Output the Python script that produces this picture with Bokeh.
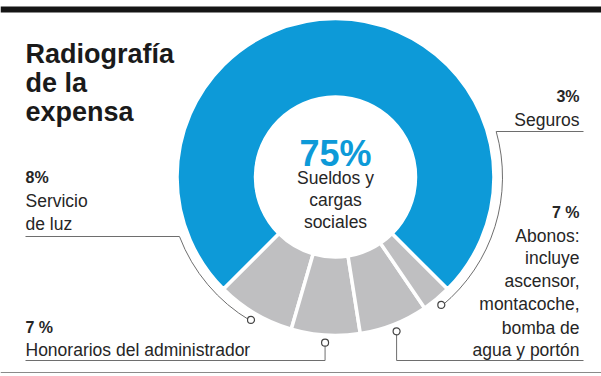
import math
from bokeh.plotting import figure
from bokeh.models import Range1d, ColumnDataSource
from bokeh.core.properties import value
from bokeh.embed import file_html
from bokeh.resources import INLINE

# ---------------- data ----------------
categories = ["Servicio de luz", "Honorarios del administrador", "Abonos", "Seguros",
              "Sueldos y cargas sociales"]
values = [8, 7, 7, 3, 75]
pct_labels = ["8%", "7 %", "7 %", "3%", "75%"]
title_lines = ["Radiografía", "de la", "expensa"]
servicio_lines = ["Servicio", "de luz"]
honorarios_lines = ["Honorarios del administrador"]
abonos_lines = ["Abonos:", "incluye", "ascensor,", "montacoche,", "bomba de", "agua y portón"]
seguros_lines = ["Seguros"]
center_lines = ["Sueldos y", "cargas", "sociales"]

# ---------------- layout / style ----------------
W, H = 601, 376
BLUE = "#0d9ad8"
GRAY = "#bfbfc1"
slice_colors = [GRAY, GRAY, GRAY, GRAY, BLUE]
TXT = "#262626"
LINE = "#6e6e6e"
FONT = value("Liberation Sans")


def Y(py):
    return H - py


CX, CY = 335, Y(176.5)
R_IN, R_OUT = 80, 158.5
R_DOT, R_ARC = 166, 167
START = 225.0

total = float(sum(values))
starts, ends = [], []
a = START
for v in values:
    starts.append(math.radians(a))
    a += 360.0 * v / total
    ends.append(math.radians(a))
mids = [(s + e) / 2 for s, e in zip(starts, ends)]

p = figure(width=W, height=H, x_range=Range1d(0, W), y_range=Range1d(0, H),
           x_axis_location=None, y_axis_location=None, toolbar_location=None,
           output_backend="svg", min_border=0)
p.grid.visible = False
p.outline_line_color = None
p.background_fill_color = "white"
p.border_fill_color = "white"

# top black bar and bottom rule
p.quad(left=[0], right=[W], bottom=[Y(12)], top=[Y(6)], fill_color="#151515", line_color=None)
p.line([0, W], [Y(372), Y(372)], line_color="#8a8a8a", line_width=1)

src = ColumnDataSource(dict(cat=categories, val=values, start=starts, end=ends, color=slice_colors))
p.annular_wedge(x=CX, y=CY, inner_radius=R_IN, outer_radius=R_OUT, start_angle="start",
                end_angle="end", direction="anticlock", fill_color="color",
                line_color="white", line_width=3.5, source=src)

# ---------------- leader lines ----------------
def pt(r, ang):
    return CX + r * math.cos(ang), CY + r * math.sin(ang)

# Servicio de luz: underline + arc down to slice
y_u = Y(236)
ang_s = math.pi + math.asin((CY - y_u) / R_ARC)
xs_u = CX + R_ARC * math.cos(ang_s)
p.line([25, xs_u], [y_u, y_u], line_color=LINE, line_width=1)
p.arc(x=[CX], y=[CY], radius=R_ARC, start_angle=ang_s, end_angle=mids[0],
      direction="anticlock", line_color=LINE, line_width=1)

# Honorarios: underline then up to slice
d1 = pt(R_DOT, mids[1])
p.line([25, d1[0], d1[0]], [Y(360), Y(360), d1[1]], line_color=LINE, line_width=1)

# Abonos: down then right
d2 = pt(R_DOT, mids[2])
p.line([d2[0], d2[0], 583], [d2[1], Y(360), Y(360)], line_color=LINE, line_width=1)

# Seguros: arc up to underline
y_g = Y(131)
ang_g = 2 * math.pi + math.asin((y_g - CY) / R_ARC)
xg = CX + R_ARC * math.cos(ang_g)
p.arc(x=[CX], y=[CY], radius=R_ARC, start_angle=mids[3], end_angle=ang_g,
      direction="anticlock", line_color=LINE, line_width=1)
p.line([xg, 583], [y_g, y_g], line_color=LINE, line_width=1)

dots = [pt(R_DOT, mids[0]), d1, d2, pt(R_DOT, mids[3])]
p.scatter([d[0] for d in dots], [d[1] for d in dots], marker="circle", size=7,
          fill_color="white", line_color="#444444", line_width=1.2)

# ---------------- texts ----------------
def txt(x, ys, texts, size, bold=False, align="left", color=TXT):
    p.text(x=[x] * len(texts), y=[Y(v) for v in ys], text=texts, text_font=FONT,
           text_font_size=size, text_font_style="bold" if bold else "normal",
           text_align=align, text_baseline="alphabetic", text_color=color)

txt(25, [53, 82, 111], title_lines, "27px", bold=True, color="#1a1a1a")

txt(25, [177], [pct_labels[0]], "16px", bold=True)
txt(25, [200, 223], servicio_lines, "17.5px")

txt(25, [327], [pct_labels[1]], "16px", bold=True)
txt(25, [349], honorarios_lines, "17.5px")

txt(579, [212], [pct_labels[2]], "16px", bold=True, align="right")
txt(579, [235, 257, 280, 303, 327, 349], abonos_lines, "17.5px", align="right")

txt(579, [96], [pct_labels[3]], "16px", bold=True, align="right")
txt(579, [119], seguros_lines, "17.5px", align="right")

txt(CX, [153], [pct_labels[4]], "36px", bold=True, align="center", color=BLUE)
txt(CX, [177, 199, 221], center_lines, "17.5px", align="center")

open("out.html", "w").write(file_html(p, INLINE))
